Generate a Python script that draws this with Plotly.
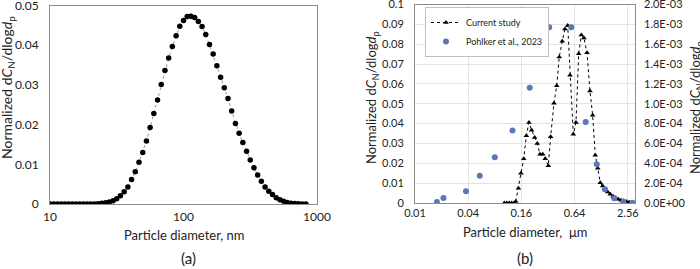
import plotly.graph_objects as go

# ---------------- Panel (a) data ----------------
diam_a_nm = [10.0, 10.66, 11.37, 12.12, 12.92, 13.77, 14.68, 15.65, 16.68, 17.78,
             18.96, 20.21, 21.54, 22.96, 24.48, 26.10, 27.83, 29.67, 31.62, 33.71,
             35.94, 38.31, 40.84, 43.54, 46.42, 49.49, 52.76, 56.23, 59.95, 63.91,
             68.13, 72.63, 77.43, 82.54, 88.0, 93.82, 100.0, 106.6, 113.7, 121.2,
             129.2, 137.7, 146.8, 156.5, 166.8, 177.8, 189.6, 202.1, 215.4, 229.6,
             244.8, 261.0, 278.3, 296.7, 316.2, 337.1, 359.4, 383.1, 408.4, 435.4,
             464.2, 494.9, 527.6, 562.3, 599.5, 639.1, 681.3, 726.3, 774.3, 825.4]
conc_a = [0, 0, 0, 0, 0, 0, 0, 0, 0, 0,
          0, 0, 0, 0.00005, 0.0002, 0.0003, 0.0005, 0.0008, 0.0013, 0.0021,
          0.0031, 0.0043, 0.0062, 0.0081, 0.0105, 0.0130, 0.0159, 0.0193, 0.0228, 0.0262,
          0.0301, 0.0336, 0.0368, 0.0397, 0.0424, 0.0448, 0.0462, 0.0472, 0.0473, 0.0470,
          0.0460, 0.0447, 0.0427, 0.0402, 0.0378, 0.0348, 0.0319, 0.0293, 0.0266, 0.0234,
          0.0203, 0.0178, 0.0155, 0.0133, 0.0111, 0.0091, 0.0073, 0.0057, 0.0043, 0.0032,
          0.0024, 0.0016, 0.0011, 0.0007, 0.0004, 0.0002, 0.0001, 0.00005, 0.00002, 0]
err_a = [0] * 70
for k, e in zip(range(34, 42), [0.0003, 0.0004, 0.0006, 0.0008, 0.0008, 0.0007, 0.0005, 0.0003]):
    err_a[k] = e

# ---------------- Panel (b) data ----------------
diam_b_um = [0.1025, 0.109, 0.116, 0.124, 0.132, 0.138, 0.148, 0.158, 0.170, 0.182,
             0.195, 0.209, 0.226, 0.242, 0.260, 0.279, 0.298, 0.323, 0.343, 0.374,
             0.402, 0.429, 0.464, 0.498, 0.535, 0.568, 0.619, 0.664, 0.712, 0.763,
             0.818, 0.884, 0.956, 1.025, 1.097, 1.171, 1.25, 1.331, 1.413, 1.516,
             1.622, 1.741, 1.868, 1.999, 2.144, 2.30, 2.462, 2.643, 2.88]
conc_b = [0, 0, 0, 0, 0, 0.0007, 0.0074, 0.0150, 0.0223, 0.0339,
          0.0406, 0.0367, 0.0330, 0.0300, 0.0245, 0.0245, 0.0223, 0.0188, 0.0334, 0.0502,
          0.0591, 0.0735, 0.0815, 0.0877, 0.0894, 0.0644, 0.0346, 0.0406, 0.0752, 0.0846,
          0.0831, 0.0757, 0.0564, 0.0442, 0.0241, 0.0175, 0.0102, 0.0086, 0.0069, 0.0055,
          0.0044, 0.0034, 0.0026, 0.0019, 0.0014, 0.0011, 0.0008, 0.0004, 0.0002]

diam_pohl_um = [0.0177, 0.0210, 0.0378, 0.0541, 0.080, 0.127, 0.199, 0.330,
                0.587, 0.855, 1.141, 1.413, 1.796, 2.277, 2.88]
conc_pohl = [1.0e-05, 5.0e-05, 1.18e-04, 2.75e-04, 4.6e-04, 7.3e-04, 1.16e-03, 1.77e-03,
             1.77e-03, 8.15e-04, 3.9e-04, 1.38e-04, 4.7e-05, 1.3e-05, 3.0e-06]

xticks_a = [10, 100, 1000]
yticks_a = [0, 0.01, 0.02, 0.03, 0.04, 0.05]
xticks_b = [0.01, 0.04, 0.16, 0.64, 2.56]
yticks_b = [0, 0.01, 0.02, 0.03, 0.04, 0.05, 0.06, 0.07, 0.08, 0.09, 0.1]
yticks_b2 = [0, 0.0002, 0.0004, 0.0006, 0.0008, 0.001, 0.0012, 0.0014, 0.0016, 0.0018, 0.002]

FONT = "Lato"
W, H = 700, 269

fig = go.Figure()

fig.add_trace(go.Scatter(
    x=diam_a_nm, y=conc_a, mode="lines+markers",
    line=dict(color="#9a9a9a", width=1, dash="dot"),
    marker=dict(symbol="circle", size=5.5, color="black"),
    error_y=dict(type="data", array=err_a, visible=True, color="#9a9a9a", thickness=0.8, width=0),
    xaxis="x", yaxis="y", showlegend=False))

fig.add_trace(go.Scatter(
    x=diam_b_um, y=conc_b, mode="lines+markers", name="Current study",
    line=dict(color="black", width=1, dash="dot"),
    marker=dict(symbol="triangle-up", size=5, color="black"),
    xaxis="x2", yaxis="y2"))

fig.add_trace(go.Scatter(
    x=diam_pohl_um, y=conc_pohl, mode="markers", name="Pohlker et al., 2023",
    marker=dict(symbol="circle", size=6, color="#5a78b4"),
    xaxis="x2", yaxis="y3"))

frame = "#8c8c8c"
fig.update_layout(
    width=W, height=H, margin=dict(l=0, r=0, t=0, b=0, autoexpand=False),
    paper_bgcolor="white", plot_bgcolor="white",
    font=dict(family=FONT, color="#222222", size=12),
    xaxis=dict(type="log", domain=[50 / W, 317 / W], range=[1, 3],
               tickvals=xticks_a, ticktext=[str(v) for v in xticks_a],
               showgrid=False, zeroline=False, showline=True, mirror=True,
               linecolor=frame, linewidth=1, ticks="", tickfont=dict(size=12),
               ticklabelstandoff=2, ticklabeloverflow="allow", automargin=False, anchor="y"),
    yaxis=dict(domain=[65 / H, 263.5 / H], range=[0, 0.05],
               tickvals=yticks_a, ticktext=["0" if v == 0 else f"{v:g}" for v in yticks_a],
               showgrid=False, zeroline=False, showline=True, mirror=True,
               linecolor=frame, linewidth=1, ticks="", tickfont=dict(size=12),
               ticklabelstandoff=8, ticklabeloverflow="allow", automargin=False, anchor="x"),
    xaxis2=dict(type="log", domain=[415 / W, 635 / W], range=[-2, 0.49],
                tickvals=xticks_b, ticktext=[f"{v:g}" for v in xticks_b],
                showgrid=True, gridcolor="#e3e3e3", gridwidth=1,
                zeroline=False, showline=True, mirror=True,
                linecolor=frame, linewidth=1, ticks="", tickfont=dict(size=11),
                ticklabelstandoff=0, ticklabeloverflow="allow", automargin=False, anchor="y2"),
    yaxis2=dict(domain=[66 / H, 264.5 / H], range=[0, 0.1],
                tickvals=yticks_b, ticktext=["0" if v == 0 else f"{v:g}" for v in yticks_b],
                showgrid=True, gridcolor="#e3e3e3", gridwidth=1,
                zeroline=False, showline=True, mirror=True,
                linecolor=frame, linewidth=1, ticks="", tickfont=dict(size=11),
                ticklabelstandoff=8, ticklabeloverflow="allow", automargin=False, anchor="x2"),
    yaxis3=dict(domain=[66 / H, 264.5 / H], range=[0, 0.002], overlaying="y2", side="right",
                tickvals=yticks_b2, ticktext=[f"{v:.1E}" for v in yticks_b2],
                showgrid=False, zeroline=False, showline=False, ticks="",
                tickfont=dict(size=11), ticklabelstandoff=8, ticklabeloverflow="allow",
                automargin=False, anchor="x2"),
    legend=dict(x=425 / W, y=1 - 7 / H, xanchor="left", yanchor="top",
                bgcolor="white", bordercolor="#bfbfbf", borderwidth=1,
                font=dict(size=9, family=FONT), itemwidth=30, tracegroupgap=0),
)

ytitle = "Normalized d<i>C</i><sub>N</sub>/dlog<i>d</i><sub>p</sub>"
ann = [
    dict(x=8 / W, y=1 - 88 / H, text=ytitle, textangle=-90, font=dict(size=14)),
    dict(x=372 / W, y=1 - 98 / H, text=ytitle, textangle=-90, font=dict(size=13)),
    dict(x=696 / W, y=1 - 108 / H, text=ytitle, textangle=-90, font=dict(size=13)),
    dict(x=184 / W, y=1 - 235 / H, text="Particle diameter, nm", font=dict(size=13)),
    dict(x=525 / W, y=1 - 232 / H, text="Particle diameter,  μm", font=dict(size=13)),
    dict(x=188 / W, y=1 - 258 / H, text="(a)", font=dict(size=15)),
    dict(x=525 / W, y=1 - 258 / H, text="(b)", font=dict(size=15)),
]
for a in ann:
    a.update(xref="paper", yref="paper", showarrow=False, xanchor="center", yanchor="middle")
fig.update_layout(annotations=ann)

fig.write_html("out.html", config={"displayModeBar": False},
               post_script="document.body.style.margin='0px';document.body.style.overflow='hidden';")
